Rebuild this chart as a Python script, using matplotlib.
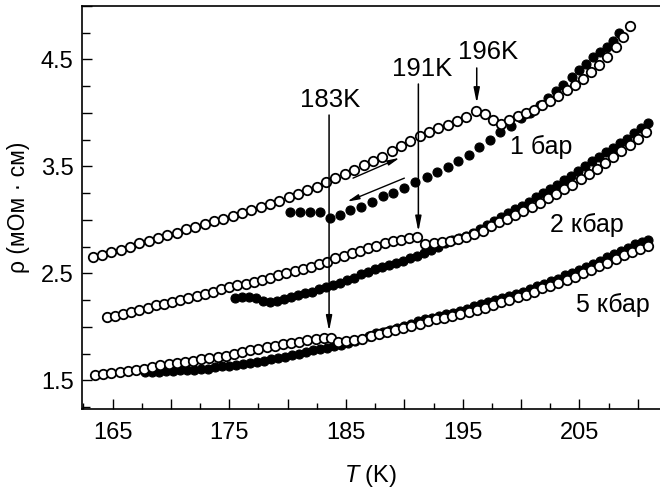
import matplotlib
matplotlib.use("Agg")
import matplotlib.pyplot as plt
from matplotlib.ticker import MultipleLocator, FuncFormatter

plt.rcParams['font.family'] = ['Liberation Sans', 'DejaVu Sans']
plt.rcParams['mathtext.fontset'] = 'custom'
plt.rcParams['mathtext.it'] = 'Liberation Sans:italic'
plt.rcParams['mathtext.rm'] = 'Liberation Sans'

# 1 bar, heating (open) and cooling (filled)
t_1bar_heat = [163.3, 164.1, 164.9, 165.7, 166.5, 167.3, 168.1, 168.9, 169.7, 170.5,
               171.3, 172.1, 172.9, 173.7, 174.5, 175.3, 176.1, 176.9, 177.7, 178.5,
               179.3, 180.1, 180.9, 181.7, 182.5, 183.3, 184.1, 184.9, 185.7, 186.5,
               187.3, 188.1, 188.9, 189.7, 190.5, 191.3, 192.1, 192.9, 193.7, 194.5,
               195.3, 196.1, 196.9, 197.6, 198.3, 199.0, 199.7, 200.4, 201.1, 201.8,
               202.5, 203.2, 203.9, 204.6, 205.3, 206.0, 206.7, 207.4, 208.1, 208.7, 209.3]
r_1bar_heat = [2.65, 2.67, 2.70, 2.72, 2.75, 2.78, 2.80, 2.83, 2.86, 2.88,
               2.91, 2.93, 2.96, 2.99, 3.01, 3.04, 3.06, 3.09, 3.12, 3.15,
               3.18, 3.21, 3.24, 3.28, 3.31, 3.35, 3.39, 3.43, 3.47, 3.51,
               3.55, 3.59, 3.64, 3.69, 3.74, 3.78, 3.82, 3.86, 3.89, 3.92,
               3.96, 4.02, 3.99, 3.93, 3.90, 3.93, 3.97, 4.00, 4.03, 4.07,
               4.11, 4.16, 4.21, 4.26, 4.32, 4.38, 4.45, 4.52, 4.62, 4.71, 4.81]

t_1bar_cool = [180.2, 181.05, 181.9, 182.8, 183.6, 184.5, 185.3, 186.3, 187.2, 188.2,
               189.0, 190.0, 190.9, 191.9, 192.8, 193.7, 194.6, 195.5, 196.4, 197.3,
               198.2, 199.1, 200.0, 200.8, 201.6, 202.3, 203.0, 203.6, 204.4, 205.0,
               205.6, 206.2, 206.8, 207.4, 207.9, 208.4]
r_1bar_cool = [3.07, 3.07, 3.07, 3.07, 3.02, 3.05, 3.09, 3.12, 3.17, 3.22,
               3.25, 3.30, 3.35, 3.40, 3.45, 3.49, 3.55, 3.61, 3.68, 3.75,
               3.82, 3.88, 3.95, 4.00, 4.07, 4.14, 4.20, 4.26, 4.34, 4.40,
               4.46, 4.52, 4.57, 4.62, 4.67, 4.75]

# 2 kbar
t_2kbar_heat = [164.5, 165.2, 165.9, 166.6, 167.3, 168.0, 168.7, 169.4, 170.1, 170.8,
                171.5, 172.2, 172.9, 173.6, 174.3, 175.0, 175.7, 176.4, 177.1, 177.8,
                178.5, 179.2, 179.9, 180.6, 181.3, 182.0, 182.7, 183.4, 184.1, 184.8,
                185.5, 186.2, 186.9, 187.6, 188.3, 189.0, 189.7, 190.4, 191.1, 191.8,
                192.5, 193.2, 193.9, 194.6, 195.3, 196.0, 196.7, 197.4, 198.1, 198.8,
                199.5, 200.2, 200.9, 201.6, 202.3, 203.0, 203.7, 204.4, 205.1, 205.8,
                206.5, 207.2, 207.9, 208.6, 209.3, 210.0, 210.7]
r_2kbar_heat = [2.09, 2.10, 2.12, 2.14, 2.16, 2.18, 2.20, 2.21, 2.23, 2.25,
                2.27, 2.29, 2.31, 2.33, 2.35, 2.37, 2.39, 2.40, 2.42, 2.44,
                2.46, 2.48, 2.50, 2.52, 2.54, 2.56, 2.59, 2.61, 2.64, 2.66,
                2.69, 2.71, 2.74, 2.76, 2.78, 2.80, 2.81, 2.83, 2.84, 2.77,
                2.78, 2.79, 2.80, 2.82, 2.84, 2.87, 2.90, 2.94, 2.98, 3.01,
                3.05, 3.08, 3.12, 3.16, 3.20, 3.24, 3.29, 3.33, 3.38, 3.43,
                3.48, 3.53, 3.59, 3.64, 3.70, 3.76, 3.82]

t_2kbar_cool = [164.5, 175.5, 176.1, 176.7, 177.3, 177.9, 178.5, 179.1, 179.7, 180.3,
                180.9, 181.5, 182.1, 182.7, 183.3, 183.9, 184.5, 185.1, 185.7, 186.3,
                186.9, 187.5, 188.1, 188.7, 189.3, 189.9, 190.5, 191.1, 191.7, 192.3,
                192.9, 193.5, 194.1, 194.7, 195.3, 195.9, 196.5, 197.1, 197.7, 198.3,
                198.9, 199.5, 200.1, 200.7, 201.3, 201.9, 202.5, 203.1, 203.7, 204.3,
                204.9, 205.5, 206.1, 206.7, 207.3, 207.9, 208.5, 209.1, 209.7, 210.3, 210.9]
r_2kbar_cool = [2.09, 2.27, 2.28, 2.28, 2.27, 2.24, 2.23, 2.24, 2.26, 2.28,
                2.30, 2.32, 2.33, 2.35, 2.37, 2.39, 2.41, 2.44, 2.46, 2.49,
                2.51, 2.54, 2.56, 2.58, 2.60, 2.62, 2.64, 2.66, 2.69, 2.72,
                2.75, 2.78, 2.81, 2.83, 2.85, 2.88, 2.91, 2.95, 2.99, 3.03,
                3.06, 3.10, 3.13, 3.17, 3.21, 3.25, 3.29, 3.33, 3.37, 3.41,
                3.46, 3.50, 3.55, 3.59, 3.63, 3.67, 3.72, 3.76, 3.81, 3.86, 3.91]

# 5 kbar
t_5kbar_heat = [163.5, 164.2, 164.9, 165.6, 166.3, 167.0, 167.7, 168.4, 169.1, 169.8,
                170.5, 171.2, 171.9, 172.6, 173.3, 174.0, 174.7, 175.4, 176.1, 176.8,
                177.5, 178.2, 178.9, 179.6, 180.3, 181.0, 181.7, 182.4, 183.1, 183.7,
                184.3, 185.0, 185.7, 186.4, 187.1, 187.8, 188.5, 189.2, 189.9, 190.6,
                191.3, 192.0, 192.7, 193.4, 194.1, 194.8, 195.5, 196.2, 196.9, 197.6,
                198.3, 199.0, 199.7, 200.4, 201.1, 201.8, 202.5, 203.2, 203.9, 204.6,
                205.3, 206.0, 206.7, 207.4, 208.1, 208.8, 209.5, 210.2, 210.9]
r_5kbar_heat = [1.55, 1.56, 1.57, 1.58, 1.59, 1.60, 1.61, 1.62, 1.64, 1.65,
                1.66, 1.67, 1.68, 1.70, 1.71, 1.72, 1.73, 1.75, 1.76, 1.78,
                1.79, 1.81, 1.82, 1.84, 1.85, 1.86, 1.88, 1.89, 1.90, 1.90,
                1.86, 1.87, 1.88, 1.89, 1.91, 1.93, 1.95, 1.97, 1.99, 2.01,
                2.03, 2.05, 2.07, 2.08, 2.10, 2.12, 2.14, 2.16, 2.18, 2.20,
                2.23, 2.25, 2.28, 2.30, 2.33, 2.36, 2.38, 2.41, 2.44, 2.47,
                2.50, 2.53, 2.57, 2.60, 2.63, 2.67, 2.70, 2.73, 2.76]

t_5kbar_cool = [167.8, 168.4, 169.0, 169.6, 170.2, 170.8, 171.4, 172.0, 172.6, 173.2,
                173.8, 174.4, 175.0, 175.6, 176.2, 176.8, 177.4, 178.0, 178.6, 179.2,
                179.8, 180.4, 181.0, 181.6, 182.2, 182.8, 183.4, 184.0, 184.6, 185.2,
                185.8, 186.4, 187.0, 187.6, 188.2, 188.8, 189.4, 190.0, 190.6, 191.2,
                191.8, 192.4, 193.0, 193.6, 194.2, 194.8, 195.4, 196.0, 196.6, 197.2,
                197.8, 198.4, 199.0, 199.6, 200.2, 200.8, 201.4, 202.0, 202.6, 203.2,
                203.8, 204.4, 205.0, 205.6, 206.2, 206.8, 207.4, 208.0, 208.6, 209.2,
                209.8, 210.4, 210.9]
r_5kbar_cool = [1.58, 1.58, 1.58, 1.59, 1.59, 1.60, 1.60, 1.60, 1.61, 1.61,
                1.62, 1.63, 1.63, 1.64, 1.65, 1.66, 1.67, 1.68, 1.70, 1.71,
                1.72, 1.74, 1.75, 1.76, 1.78, 1.79, 1.80, 1.82, 1.83, 1.85,
                1.87, 1.89, 1.91, 1.94, 1.95, 1.97, 1.99, 2.01, 2.03, 2.05,
                2.07, 2.08, 2.10, 2.12, 2.13, 2.15, 2.17, 2.19, 2.21, 2.23,
                2.25, 2.27, 2.29, 2.31, 2.33, 2.35, 2.38, 2.40, 2.43, 2.45,
                2.48, 2.50, 2.53, 2.56, 2.59, 2.62, 2.65, 2.68, 2.71, 2.74,
                2.77, 2.79, 2.81]

series = [
    (t_1bar_cool, r_1bar_cool, t_1bar_heat, r_1bar_heat),
    (t_2kbar_cool, r_2kbar_cool, t_2kbar_heat, r_2kbar_heat),
    (t_5kbar_cool, r_5kbar_cool, t_5kbar_heat, r_5kbar_heat),
]

fig = plt.figure(figsize=(6.6, 4.93), dpi=100)
ax = fig.add_axes([0.124, 0.170, 0.876, 0.818])

for tc, rc, th, rh in series:
    ax.plot(tc, rc, 'o', color='black', markersize=6.5, markeredgewidth=0.8, zorder=2)
    ax.plot(th, rh, 'o', markerfacecolor='white', markeredgecolor='black',
            markersize=6.8, markeredgewidth=1.3, zorder=3)

# transition temperatures
arrow = dict(arrowstyle='-|>,head_length=0.9,head_width=0.18', color='black',
             lw=1.1, shrinkA=0, shrinkB=0)
ax.annotate('', xy=(183.55, 1.96), xytext=(183.55, 3.98), arrowprops=arrow, zorder=4)
ax.text(183.6, 4.12, '183K', fontsize=18.5, ha='center', va='center')
ax.annotate('', xy=(191.2, 2.89), xytext=(191.2, 4.27), arrowprops=arrow, zorder=4)
ax.text(191.5, 4.41, '191K', fontsize=18.5, ha='center', va='center')
ax.annotate('', xy=(196.2, 4.09), xytext=(196.2, 4.42), arrowprops=arrow, zorder=4)
ax.text(197.2, 4.57, '196K', fontsize=18.5, ha='center', va='center')

# heating / cooling direction
small = dict(arrowstyle='-|>,head_length=0.7,head_width=0.15', color='black',
             lw=1.0, shrinkA=0, shrinkB=0)
ax.annotate('', xy=(189.6, 3.58), xytext=(185.6, 3.39), arrowprops=small)
ax.annotate('', xy=(185.1, 3.17), xytext=(190.0, 3.39), arrowprops=small)

ax.text(201.7, 3.68, '1 бар', fontsize=18, ha='center', va='center')
ax.text(205.6, 2.95, '2 кбар', fontsize=18, ha='center', va='center')
ax.text(207.9, 2.20, '5 кбар', fontsize=18, ha='center', va='center')

ax.set_xlim(162.37, 211.9)
ax.set_ylim(1.23, 5.0)

ax.xaxis.set_major_locator(MultipleLocator(5))
ax.xaxis.set_minor_locator(MultipleLocator(2.5))
ax.yaxis.set_major_locator(MultipleLocator(0.5))
ax.yaxis.set_minor_locator(MultipleLocator(0.25))
ax.xaxis.set_major_formatter(FuncFormatter(lambda v, p: f'{v:.0f}' if round(v) % 10 == 5 else ''))
ax.yaxis.set_major_formatter(FuncFormatter(lambda v, p: f'{v:.1f}' if round(v * 10) % 10 == 5 else ''))

ax.tick_params(which='both', direction='in', top=False, right=False, labelsize=17, width=1.0)
ax.tick_params(axis='x', which='major', length=7, pad=9)
ax.tick_params(axis='x', which='minor', length=4)
ax.tick_params(axis='y', which='major', length=7, pad=6)
ax.tick_params(axis='y', which='minor', length=6)

ax.spines['right'].set_visible(False)
for s in ('left', 'bottom', 'top'):
    ax.spines[s].set_linewidth(1.2)

ax.set_xlabel('$T$ (K)', fontsize=17, labelpad=14)
ax.set_ylabel('ρ (мОм · см)', fontsize=16.5, labelpad=8)

fig.savefig('out.png', dpi=100)
